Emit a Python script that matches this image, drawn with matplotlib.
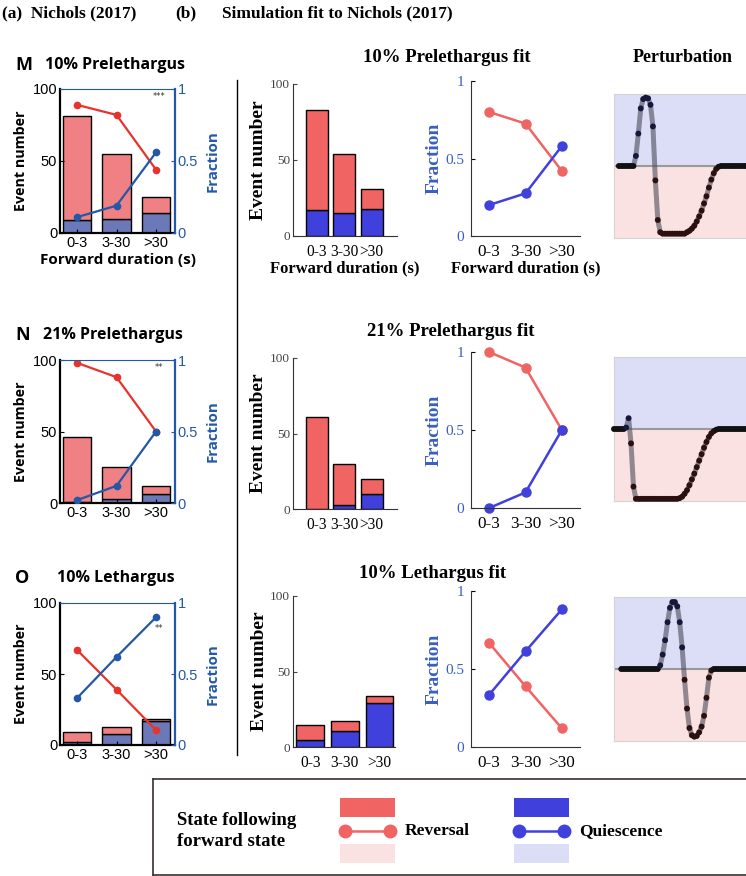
import matplotlib
matplotlib.use("Agg")
import matplotlib.pyplot as plt
import numpy as np
from matplotlib.patches import Rectangle
from matplotlib.lines import Line2D

W, H = 746, 876

durations = ["0-3", "3-30", ">30"]

# (a) Nichols (2017) data
exp_letters = ["M", "N", "O"]
exp_titles = ["10% Prelethargus", "21% Prelethargus", "10% Lethargus"]
exp_total = [[81, 55, 25], [46, 25, 12], [9, 13, 18.5]]
exp_quiescence = [[9, 10, 14], [1, 3, 6], [2.3, 7.5, 16.6]]
exp_rev_frac = [[0.89, 0.82, 0.44], [0.98, 0.88, 0.50], [0.67, 0.39, 0.105]]
exp_qui_frac = [[0.11, 0.19, 0.56], [0.02, 0.12, 0.50], [0.33, 0.62, 0.90]]
exp_stars = ["***", "**", "**"]

# (b) simulation fit data
sim_titles = ["10% Prelethargus fit", "21% Prelethargus fit", "10% Lethargus fit"]
sim_total = [[82.6, 53.7, 31], [60.6, 29.7, 19.8], [14.6, 17.5, 33.6]]
sim_quiescence = [[17, 15, 18], [0, 2.9, 9.9], [4.6, 10.4, 29.4]]
sim_rev_frac = [[0.80, 0.725, 0.42], [1.0, 0.90, 0.50], [0.667, 0.389, 0.12]]
sim_qui_frac = [[0.20, 0.275, 0.58], [0.0, 0.10, 0.50], [0.335, 0.613, 0.882]]

# perturbation traces (one sample per step, nan = not drawn)
nan = np.nan
pert_1 = [nan, nan, 0, 0, 0, 0, 0, 0, 0, 0.14, 0.45, 0.8, 0.93, 0.95, 0.94, 0.85,
          0.55, -0.2, -0.75, -0.92, -0.94, -0.94, -0.94, -0.94, -0.94, -0.94,
          -0.94, -0.94, -0.94, -0.94, -0.92, -0.9, -0.87, -0.83, -0.77, -0.7,
          -0.62, -0.52, -0.42, -0.3, -0.19, -0.1, -0.04, -0.01, 0, 0, 0, 0, 0,
          0, 0, 0, 0, 0, 0, 0, 0, 0, 0, 0]
pert_2 = [0, 0, 0, 0, 0, 0.02, 0.15, -0.2, -0.8, -0.97, -0.97, -0.97, -0.97,
          -0.97, -0.97, -0.97, -0.97, -0.97, -0.97, -0.97, -0.97, -0.97, -0.97,
          -0.97, -0.97, -0.97, -0.97, -0.96, -0.94, -0.9, -0.85, -0.78, -0.7,
          -0.62, -0.53, -0.44, -0.35, -0.26, -0.18, -0.11, -0.06, -0.03, -0.01,
          0, 0, 0, 0, 0, 0, 0, 0, 0, 0, 0, 0, 0, 0, 0, 0, 0]
pert_3 = [nan, nan, nan, 0, 0, 0, 0, 0, 0, 0, 0, 0, 0, 0, 0, 0, 0, 0, 0, 0.05,
          0.2, 0.4, 0.65, 0.85, 0.93, 0.93, 0.87, 0.65, 0.3, -0.15, -0.55, -0.82,
          -0.92, -0.94, -0.93, -0.88, -0.8, -0.65, -0.4, -0.12, -0.02, 0, 0, 0,
          0, 0, 0, 0, 0, 0, 0, 0, 0, 0, 0, 0, 0, 0, 0, 0]
perturbations = [pert_1, pert_2, pert_3]

EXP_RED_BAR = "#ef8083"
EXP_BLUE_BAR = "#6b79b9"
EXP_RED = "#e8332d"
EXP_BLUE = "#2358a8"
SIM_RED = "#f06464"
SIM_BLUE = "#4040dd"
FRAC_BLUE = "#3a5ec6"
LIGHT_RED = "#fae2e2"
LIGHT_BLUE = "#dcddf7"

SANS = "Liberation Sans"
SANS_B = "Open Sans"
SERIF = "Liberation Serif"


def box(x0, y0, x1, y1):
    return [x0 / W, 1 - y1 / H, (x1 - x0) / W, (y1 - y0) / H]


def fy(y):
    return 1 - y / H


fig = plt.figure(figsize=(W / 100, H / 100), dpi=100)
x = np.arange(1, 4)

# headers
fig.text(2 / W, fy(13), "(a)  Nichols (2017)", family=SERIF, weight="bold", fontsize=12.5, va="center")
fig.text(175 / W, fy(13), "(b)", family=SERIF, weight="bold", fontsize=12.5, va="center")
fig.text(222 / W, fy(13), "Simulation fit to Nichols (2017)", family=SERIF, weight="bold",
         fontsize=12.5, va="center")
fig.add_artist(Line2D([237 / W, 237 / W], [fy(80), fy(755)], color="k", lw=1))

# panel (a)
exp_rows = [(89, 233), (360, 503), (603, 745)]
exp_title_y = [65, 335, 578]
exp_title_x = [45, 43, 57]
for i in range(3):
    y0, y1 = exp_rows[i]
    fig.text(15 / W, fy(exp_title_y[i]), exp_letters[i], family=SANS_B, weight="bold",
             fontsize=13, va="center")
    fig.text(exp_title_x[i] / W, fy(exp_title_y[i]), exp_titles[i], family=SANS_B,
             weight="bold", fontsize=11.5, va="center")

    ax = fig.add_axes(box(60, y0, 175, y1))
    qui = np.array(exp_quiescence[i])
    rev = np.array(exp_total[i]) - qui
    ax.bar(x, qui, 0.73, color=EXP_BLUE_BAR, edgecolor="k", lw=1)
    ax.bar(x, rev, 0.73, bottom=qui, color=EXP_RED_BAR, edgecolor="k", lw=1)
    ax.set_xlim(0.57, 3.48)
    ax.set_ylim(0, 100)
    ax.set_yticks([0, 50, 100])
    ax.set_xticks(x, durations)
    for s in ["top", "right"]:
        ax.spines[s].set_visible(False)
    for s in ["left", "bottom"]:
        ax.spines[s].set_linewidth(1.6)
    ax.tick_params(direction="in", length=3, labelsize=10.5, pad=2)
    for lab in ax.get_xticklabels() + ax.get_yticklabels():
        lab.set_family(SANS)
    ax.set_ylabel("Event number", family=SANS_B, weight="bold", fontsize=10.3)
    ax.yaxis.set_label_coords(-0.28, 0.5)
    if i == 0:
        ax.set_xlabel("Forward duration (s)", family=SANS_B, weight="bold", fontsize=11)
        ax.xaxis.set_label_coords(0.5, -0.14)

    ax2 = ax.twinx()
    ax2.plot(x, exp_rev_frac[i], "-o", color=EXP_RED, ms=4.5, lw=1.6)
    ax2.plot(x, exp_qui_frac[i], "-o", color=EXP_BLUE, ms=4.5, lw=1.6)
    ax2.set_ylim(0, 1)
    ax2.set_yticks([0, 0.5, 1], ["0", "0.5", "1"])
    ax2.spines["left"].set_visible(False)
    ax2.spines["bottom"].set_visible(False)
    ax2.spines["right"].set_color(EXP_BLUE)
    ax2.spines["right"].set_linewidth(1.6)
    ax2.spines["top"].set_color(EXP_BLUE)
    ax2.spines["top"].set_linewidth(0.8)
    ax2.tick_params(direction="in", length=3, labelsize=10.5, colors=EXP_BLUE, pad=2)
    for lab in ax2.get_yticklabels():
        lab.set_family(SANS)
    ax2.set_ylabel("Fraction", family=SANS_B, weight="bold", fontsize=10.8, color=EXP_BLUE)
    ax2.yaxis.set_label_coords(1.27, 0.5)
    star_y = 0.82 if i == 2 else 0.95
    ax2.text(0.86, star_y, exp_stars[i], transform=ax2.transAxes, fontsize=6, color="#333",
             ha="center", va="center")

# panel (b)
bar_rows = [(84, 236), (358, 509), (596, 747)]
bar_right = [397, 397, 395]
bar_xlim = [(0.12, 3.93), (0.12, 3.93), (0.5, 3.45)]
line_rows = [(81, 236), (352, 508), (591, 747)]
sim_title_pos = [(447, 57), (451, 332), (433, 573)]
for i in range(3):
    tx, ty = sim_title_pos[i]
    fig.text(tx / W, fy(ty), sim_titles[i], family=SERIF, weight="bold", fontsize=13.5,
             ha="center", va="center")

    y0, y1 = bar_rows[i]
    ax = fig.add_axes(box(293, y0, bar_right[i], y1))
    qui = np.array(sim_quiescence[i])
    rev = np.array(sim_total[i]) - qui
    ax.bar(x, qui, 0.8, color=SIM_BLUE, edgecolor="k", lw=1)
    ax.bar(x, rev, 0.8, bottom=qui, color=SIM_RED, edgecolor="k", lw=1)
    ax.set_xlim(*bar_xlim[i])
    ax.set_ylim(0, 100)
    ax.set_yticks([0, 50, 100])
    ax.set_xticks(x, durations)
    for s in ["top", "right"]:
        ax.spines[s].set_visible(False)
    for s in ["left", "bottom"]:
        ax.spines[s].set_color("#333")
    ax.tick_params(axis="y", direction="in", length=3, labelsize=9.5, colors="#444", pad=2)
    ax.tick_params(axis="x", length=0, labelsize=11.2, pad=5.5)
    for lab in ax.get_xticklabels() + ax.get_yticklabels():
        lab.set_family(SERIF)
    ax.set_ylabel("Event number", family=SERIF, weight="bold", fontsize=14)
    ax.yaxis.set_label_coords(-0.25, 0.5)
    if i == 0:
        ax.set_xlabel("Forward duration (s)", family=SERIF, weight="bold", fontsize=12)
        ax.xaxis.set_label_coords(0.5, -0.16)

    y0, y1 = line_rows[i]
    ax = fig.add_axes(box(471, y0, 580, y1))
    ax.plot(x, sim_rev_frac[i], "-o", color=SIM_RED, ms=6.5, lw=1.8, clip_on=False)
    ax.plot(x, sim_qui_frac[i], "-o", color=SIM_BLUE, ms=6.5, lw=1.8, clip_on=False)
    ax.set_xlim(0.5, 3.5)
    ax.set_ylim(0, 1)
    ax.set_yticks([0, 0.5, 1], ["0", "0.5", "1"])
    ax.set_xticks(x, durations)
    for s in ["top", "right"]:
        ax.spines[s].set_visible(False)
    for s in ["left", "bottom"]:
        ax.spines[s].set_color("#333")
    ax.tick_params(axis="y", direction="in", length=3, labelsize=11, labelcolor=FRAC_BLUE, pad=5)
    ax.tick_params(axis="x", length=0, labelsize=12.3, pad=5.5)
    for lab in ax.get_xticklabels() + ax.get_yticklabels():
        lab.set_family(SERIF)
    ax.set_ylabel("Fraction", family=SERIF, weight="bold", fontsize=14, color=FRAC_BLUE)
    ax.yaxis.set_label_coords(-0.26, 0.5)
    if i == 0:
        ax.set_xlabel("Forward duration (s)", family=SERIF, weight="bold", fontsize=12)
        ax.xaxis.set_label_coords(0.5, -0.16)

# perturbations
fig.text(683 / W, fy(58), "Perturbation", family=SERIF, weight="bold", fontsize=13,
         ha="center", va="center")
pert_rows = [(94, 238), (357, 501), (597, 741)]
for i in range(3):
    y0, y1 = pert_rows[i]
    ax = fig.add_axes(box(614, y0, 760, y1))
    ax.axhspan(0, 1, color=LIGHT_BLUE, lw=0)
    ax.axhspan(-1, 0, color=LIGHT_RED, lw=0)
    ax.axhline(0, color="#9a9a9a", lw=1.5)
    v = np.array(perturbations[i], dtype=float)
    t = np.arange(len(v))
    ax.plot(t, v, color="#4a4a5a", alpha=0.6, lw=3.6, solid_capstyle="round", clip_on=False)
    cols = np.where(v > 0.01, "#17173a", np.where(v < -0.01, "#2c1010", "#111111"))
    ax.scatter(t, v, s=18, c=cols, lw=0, zorder=3, clip_on=False)
    ax.set_xlim(0, 60)
    ax.set_ylim(-1, 1)
    ax.set_xticks([])
    ax.set_yticks([])
    for s in ax.spines.values():
        s.set_color("#d4d4d4")

# legend box
lax = fig.add_axes(box(153, 779, 800, 875))
lax.set_xlim(153, 800)
lax.set_ylim(875, 779)
lax.set_xticks([])
lax.set_yticks([])
for s in lax.spines.values():
    s.set_color("#3a3030")
    s.set_linewidth(1.2)
lax.text(177, 831, "State following\nforward state", family=SERIF, weight="bold",
         fontsize=13.5, va="center", linespacing=1.35)
legend_items = [(340, SIM_RED, LIGHT_RED, "Reversal"), (514, SIM_BLUE, LIGHT_BLUE, "Quiescence")]
for lx, dark, light, name in legend_items:
    lax.add_patch(Rectangle((lx, 798), 55, 19, color=dark, lw=0))
    lax.add_patch(Rectangle((lx, 844), 55, 19, color=light, lw=0))
    lax.plot([lx + 5, lx + 50], [831, 831], "-o", color=dark, ms=9, lw=1.8)
    lax.text(lx + 65, 831, name, family=SERIF, weight="bold", fontsize=12.5, va="center")

fig.savefig("out.png", dpi=100)
